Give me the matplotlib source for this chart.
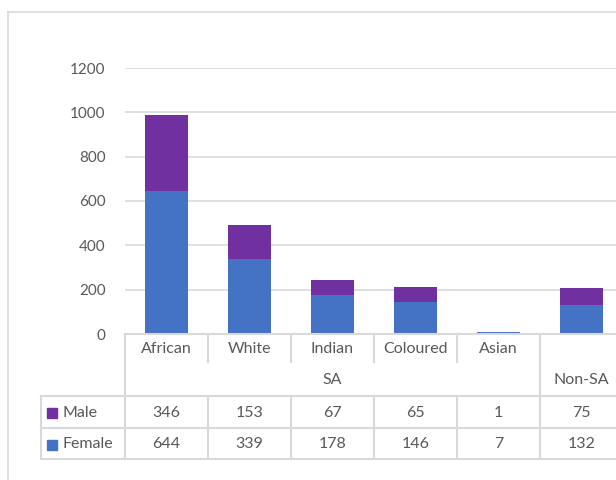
import matplotlib
matplotlib.use("Agg")
import matplotlib.pyplot as plt
from matplotlib.transforms import blended_transform_factory

# データ
categories = ["African", "White", "Indian", "Coloured", "Asian", ""]
groups = ["SA", "SA", "SA", "SA", "SA", "Non-SA"]
male = [346, 153, 67, 65, 1, 75]
female = [644, 339, 178, 146, 7, 132]
yticks = [0, 200, 400, 600, 800, 1000, 1200]

MALE_COLOR = "#7030A0"
FEMALE_COLOR = "#4472C4"
GRID = "#d9d9d9"
TXT = "#595959"
FS = 11.5

plt.rcParams["font.family"] = ["Lato", "DejaVu Sans"]

W, H = 616, 480
fig = plt.figure(figsize=(W / 100, H / 100), dpi=100)

# プロット領域 (ピクセル位置から)
x0, x1 = 125, 623
y_top, y_bot = 68, 334
ax = fig.add_axes([x0 / W, 1 - y_bot / H, (x1 - x0) / W, (y_bot - y_top) / H])

x = list(range(len(categories)))
ax.bar(x, female, width=0.52, color=FEMALE_COLOR, zorder=3)
ax.bar(x, male, width=0.52, bottom=female, color=MALE_COLOR, zorder=3)

ax.set_xlim(-0.5, len(categories) - 0.5)
ax.set_ylim(0, 1200)
ax.set_yticks(yticks)
ax.set_yticklabels([str(v) for v in yticks], color=TXT, fontsize=FS - 0.5)
ax.tick_params(axis="y", length=0, pad=14)
ax.set_xticks([])
ax.grid(axis="y", color=GRID, lw=1.2, zorder=0)
for s in ["top", "right", "left"]:
    ax.spines[s].set_visible(False)
ax.spines["bottom"].set_color(GRID)
ax.spines["bottom"].set_linewidth(1.5)
ax.spines["bottom"].set_zorder(4)

# データテーブル
tr = blended_transform_factory(ax.transData, ax.transAxes)
ph = y_bot - y_top


def fy(py):
    return (y_bot - py) / ph


def xd(px):
    return (px - x0) / (x1 - x0) * len(categories) - 0.5


row_cat, row_grp, row_m, row_f, row_end = 334, 364, 396, 428, 459
lkw = dict(color=GRID, lw=1.5, transform=tr, clip_on=False)
n = len(categories)
left_px = 41

# 横線
for py in [row_m, row_f, row_end]:
    ax.plot([xd(left_px), n - 0.5], [fy(py), fy(py)], **lkw)
# 縦線
ax.plot([xd(left_px), xd(left_px)], [fy(row_m), fy(row_end)], **lkw)
ax.plot([-0.5, -0.5], [fy(row_cat), fy(row_end)], **lkw)
for i in range(1, n + 1):
    ax.plot([i - 0.5, i - 0.5], [fy(row_m), fy(row_end)], **lkw)
    if groups[i - 1] != (groups[i] if i < n else None):
        ax.plot([i - 0.5, i - 0.5], [fy(row_cat), fy(row_m)], **lkw)
    else:
        ax.plot([i - 0.5, i - 0.5], [fy(row_cat), fy(row_grp - 2)], **lkw)

tkw = dict(transform=tr, ha="center", va="center", color=TXT, fontsize=FS,
           clip_on=False)
for i, c in enumerate(categories):
    ax.text(i, fy((row_cat + row_grp) / 2), c, **tkw)
    ax.text(i, fy((row_m + row_f) / 2 + 1), str(male[i]), **tkw)
    ax.text(i, fy((row_f + row_end) / 2 + 1), str(female[i]), **tkw)

# グループ名
seen = []
for g in groups:
    if g not in seen:
        seen.append(g)
for g in seen:
    idx = [i for i, gg in enumerate(groups) if gg == g]
    ax.text((idx[0] + idx[-1]) / 2, fy((row_grp + row_m) / 2), g, **tkw)

# 凡例キー
for label, col, ya, yb in [("Male", MALE_COLOR, row_m, row_f),
                            ("Female", FEMALE_COLOR, row_f, row_end)]:
    yc = fy((ya + yb) / 2 + 1)
    ax.plot([xd(52)], [yc], marker="s", ms=7, color=col, transform=tr,
            clip_on=False)
    ax.text(xd(62), yc, label, transform=tr, ha="left", va="center",
            color=TXT, fontsize=FS, clip_on=False)

# グラフ枠
fig.add_artist(plt.Line2D([8 / W, 8 / W], [0, 1 - 12 / H], color=GRID,
                          lw=1.2, transform=fig.transFigure))
fig.add_artist(plt.Line2D([8 / W, 1], [1 - 12 / H, 1 - 12 / H], color=GRID,
                          lw=1.2, transform=fig.transFigure))

fig.savefig("out.png", dpi=100)
